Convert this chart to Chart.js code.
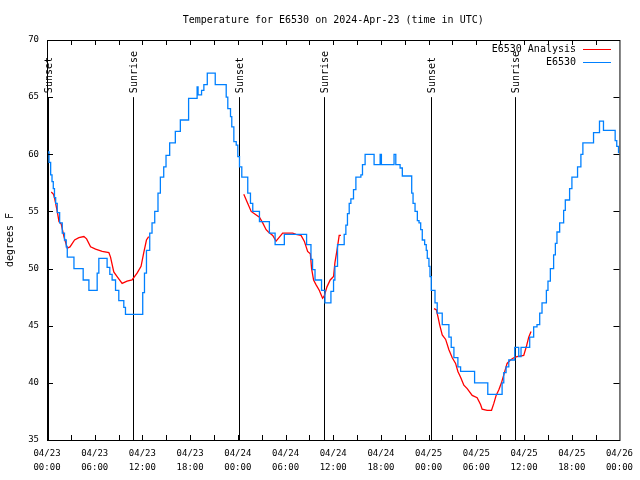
<!DOCTYPE html>
<html>
<head>
<meta charset="UTF-8" />
<title>Temperature for E6530</title>
<script src="https://cdn.jsdelivr.net/npm/chart.js"></script>
<style>
  body { margin: 0; background: #fff; }
  #wrap { width: 640px; height: 480px; }
</style>
</head>
<body>
<div id="wrap"><canvas id="tempChart" width="640" height="480"></canvas></div>
<script>
// hours since 04/23 00:00 UTC
const obsHours = [0.06,0.25,0.46,0.63,0.79,0.94,1.09,1.29,1.59,1.92,
  2.20,2.42,2.55,3.39,4.55,5.27,6.31,6.52,7.56,7.90,
  8.19,8.62,9.03,9.66,9.87,12.04,12.26,12.51,12.92,13.21,
  13.55,13.96,14.26,14.68,14.97,15.43,16.14,16.77,17.81,18.88,
  19.0,19.44,19.73,20.16,21.16,22.54,22.74,23.08,23.24,23.50,
  23.80,24.0,24.21,24.50,25.25,25.59,25.88,26.72,27.97,28.69,
  29.85,32.65,33.20,33.40,33.71,34.53,34.96,35.71,36.04,36.21,
  36.54,37.38,37.59,37.79,38.01,38.22,38.55,38.85,39.48,39.68,
  40.01,41.14,41.90,42.06,43.65,43.87,44.41,44.69,45.87,46.04,
  46.29,46.58,46.79,47.0,47.2,47.5,47.7,47.83,48.04,48.17,
  48.33,48.8,49.08,49.71,50.55,50.84,51.18,51.68,52.02,53.78,
  55.44,57.24,57.45,57.74,58.08,58.83,59.33,59.62,60.71,61.21,
  61.63,61.97,62.26,62.81,63.01,63.31,63.72,63.94,64.14,64.48,
  64.98,65.19,65.73,66.02,66.73,67.15,67.40,68.74,69.49,69.99,
  71.46,71.66,71.88];
const obsTemps = [60.2,59.3,58.2,57.6,57.0,56.2,55.7,54.9,54.0,53.1,
  52.5,51.9,51.0,50.0,49.0,48.1,49.6,50.9,50.1,49.5,
  49.0,48.1,47.2,46.6,46.0,47.9,49.6,51.6,53.1,54.0,
  55.0,56.6,58.0,58.9,59.9,61.0,62.0,63.0,64.9,65.9,
  65.2,65.6,66.1,67.1,66.1,65.0,64.0,63.3,62.4,61.1,
  60.8,59.8,58.9,58.0,56.6,55.7,55.0,54.1,53.1,52.1,
  53.0,52.1,50.8,49.9,49.0,48.1,47.0,48.0,49.0,50.2,
  52.1,53.0,53.8,54.8,55.7,56.1,56.9,58.0,58.2,59.1,
  60.0,59.1,60.0,59.1,60.0,59.1,58.8,58.1,56.6,55.7,
  55.0,54.2,54.0,53.4,52.5,52.1,51.6,50.9,50.2,49.3,
  48.1,47.0,46.1,45.1,44.0,43.1,42.2,41.4,41.0,40.0,
  39.0,40.0,40.9,41.4,42.0,43.1,42.3,43.1,44.0,44.9,
  45.1,46.1,47.0,48.1,48.9,50.0,51.2,52.2,53.2,54.0,
  55.1,56.0,57.0,58.0,58.9,60.0,61.0,61.9,62.9,62.1,
  61.2,60.7,60.1];

// analysis, null = gap
const anaHours = [0.54,0.82,0.97,1.29,1.51,1.79,2.13,2.55,2.89,3.47,4.01,4.64,4.98,5.48,
  6.11,6.94,7.78,7.99,8.40,8.82,9.45,10.07,10.70,11.33,11.83,12.17,12.51,12.79,
  18,
  24.75,25.25,25.68,26.09,26.72,27.13,27.56,27.85,28.39,28.81,29.64,30.90,31.32,31.95,
  32.36,32.78,33.12,33.28,33.53,33.83,34.24,34.66,34.87,35.21,35.62,36.04,36.21,36.47,36.75,36.97,
  42,
  48.67,48.96,49.17,49.38,49.71,50.14,50.55,50.97,51.39,51.68,52.02,52.43,52.85,53.48,
  54.1,54.53,54.73,55.36,55.91,56.20,56.49,56.83,57.16,57.45,57.87,58.29,58.71,59.12,
  59.96,60.30,60.59,60.88];
const anaTemps = [56.7,56.5,56.1,55.0,54.1,53.9,52.8,51.8,51.9,52.5,52.7,52.8,52.6,51.9,
  51.7,51.5,51.4,51.0,49.7,49.3,48.7,48.9,49.0,49.6,50.2,51.4,52.5,52.8,
  null,
  56.5,55.7,55.0,54.8,54.5,54.0,53.4,53.2,52.9,52.4,53.1,53.1,53.0,52.9,
  52.4,51.5,51.3,50.0,49.0,48.6,48.1,47.4,47.6,48.4,49.0,49.3,50.5,51.6,52.9,52.9,
  null,
  46.5,46.4,45.8,45.1,44.2,43.8,42.9,42.2,41.7,41.0,40.5,39.8,39.5,38.9,
  38.7,38.1,37.7,37.6,37.6,38.2,38.9,39.4,40.0,40.7,41.7,42.0,42.2,42.3,
  42.4,43.2,44.0,44.5];

const sunHours = [0.15, 10.83, 24.2, 34.8, 48.33, 58.85];
const sunLabels = ['Sunset', 'Sunrise', 'Sunset', 'Sunrise', 'Sunset', 'Sunrise'];
const dayLabels = ['04/23', '04/24', '04/25', '04/26'];
const seriesNames = ['E6530 Analysis', 'E6530'];
const seriesColors = ['#ff0000', '#0080ff'];

const FONT = '"DejaVu Sans Mono", monospace';
Chart.defaults.font.family = FONT;
Chart.defaults.color = '#000';

const gnuplotLook = {
  id: 'gnuplotLook',
  beforeDatasetsDraw(chart) {
    const { ctx, scales: { x, y } } = chart;
    ctx.save();
    ctx.strokeStyle = '#000';
    ctx.fillStyle = '#000';
    ctx.lineWidth = 1;
    ctx.font = '10px ' + FONT;
    sunHours.forEach((h, i) => {
      const px = Math.round(x.getPixelForValue(h)) + 0.5;
      const top = y.getPixelForValue(65);
      ctx.beginPath();
      ctx.moveTo(px, top);
      ctx.lineTo(px, y.getPixelForValue(35));
      ctx.stroke();
      ctx.save();
      ctx.translate(px + 1, top - 4);
      ctx.rotate(-Math.PI / 2);
      ctx.textAlign = 'left';
      ctx.textBaseline = 'middle';
      ctx.fillText(sunLabels[i], 0, 0);
      ctx.restore();
    });
    ctx.restore();
  },
  afterDraw(chart) {
    const { ctx, chartArea: a, scales: { x, y } } = chart;
    ctx.save();
    ctx.strokeStyle = '#000';
    ctx.lineWidth = 1;
    ctx.strokeRect(a.left + 0.5, a.top + 0.5, a.right - a.left, a.bottom - a.top);

    // inward ticks
    ctx.beginPath();
    for (let h = 3; h < 72; h += 3) {
      const px = Math.round(x.getPixelForValue(h)) + 0.5;
      ctx.moveTo(px, a.bottom); ctx.lineTo(px, a.bottom - 5);
      ctx.moveTo(px, a.top); ctx.lineTo(px, a.top + 5);
    }
    for (let t = 40; t < 70; t += 5) {
      const py = Math.round(y.getPixelForValue(t)) + 0.5;
      ctx.moveTo(a.left, py); ctx.lineTo(a.left + 6, py);
      ctx.moveTo(a.right, py); ctx.lineTo(a.right - 6, py);
    }
    ctx.stroke();

    ctx.fillStyle = '#000';
    ctx.font = '10px ' + FONT;
    ctx.textAlign = 'center';
    ctx.textBaseline = 'middle';
    ctx.fillText('Temperature for E6530 on 2024-Apr-23 (time in UTC)', (a.left + a.right) / 2, 20);

    ctx.save();
    ctx.translate(10, (a.top + a.bottom) / 2);
    ctx.rotate(-Math.PI / 2);
    ctx.fillText('degrees F', 0, 0);
    ctx.restore();

    // legend
    ctx.textAlign = 'right';
    seriesNames.forEach((name, i) => {
      const ly = 49 + i * 13;
      ctx.fillStyle = '#000';
      ctx.fillText(name, 576, ly);
      ctx.strokeStyle = seriesColors[i];
      ctx.beginPath();
      ctx.moveTo(583, ly + 0.5);
      ctx.lineTo(611, ly + 0.5);
      ctx.stroke();
    });
    ctx.restore();
  }
};

new Chart(document.getElementById('tempChart'), {
  type: 'line',
  data: {
    datasets: [
      {
        label: seriesNames[1],
        data: obsHours.map((h, i) => ({ x: h, y: obsTemps[i] })),
        borderColor: seriesColors[1],
        borderWidth: 1.3,
        stepped: true,
        pointRadius: 0,
        order: 0
      },
      {
        label: seriesNames[0],
        data: anaHours.map((h, i) => ({ x: h, y: anaTemps[i] })),
        borderColor: seriesColors[0],
        borderWidth: 1.3,
        tension: 0,
        spanGaps: false,
        pointRadius: 0,
        order: 1
      }
    ]
  },
  options: {
    responsive: false,
    animation: false,
    layout: { padding: { top: 40, right: 19, left: 0, bottom: 0 } },
    plugins: { legend: { display: false }, title: { display: false }, tooltip: { enabled: false } },
    scales: {
      x: {
        type: 'linear',
        min: 0,
        max: 72,
        grid: { display: false, drawTicks: false },
        border: { display: false },
        afterFit(s) { s.height = 40; },
        ticks: {
          stepSize: 6,
          autoSkip: false,
          maxRotation: 0,
          padding: 7,
          font: { size: 9, lineHeight: '14px' },
          callback(v) {
            const day = dayLabels[Math.floor(v / 24)];
            const hh = String(v % 24).padStart(2, '0');
            return [day, hh + ':00'];
          }
        }
      },
      y: {
        min: 35,
        max: 70,
        grid: { display: false, drawTicks: false },
        border: { display: false },
        afterFit(s) { s.width = 47; },
        ticks: { stepSize: 5, padding: 8, font: { size: 9 } }
      }
    }
  },
  plugins: [gnuplotLook]
});
</script>
</body>
</html>
